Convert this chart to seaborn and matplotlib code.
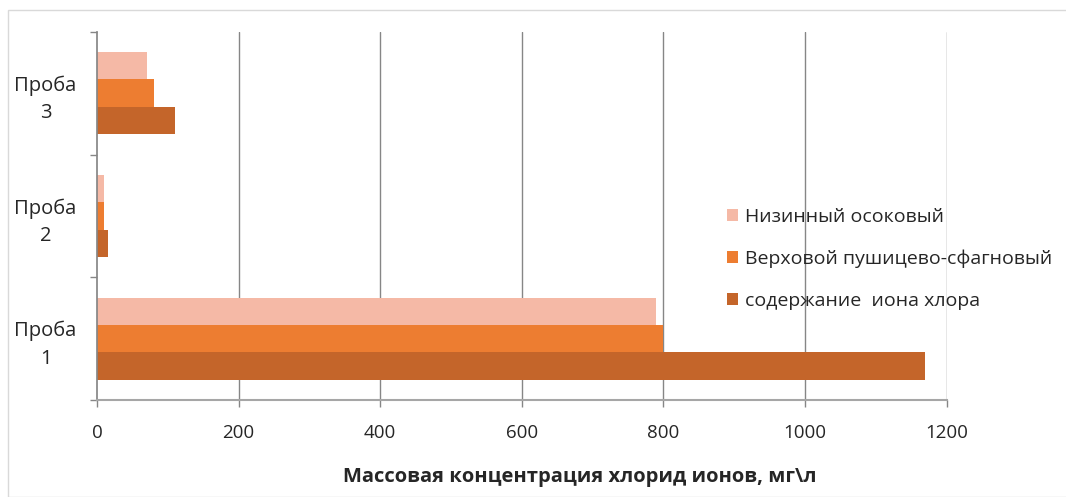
import matplotlib
matplotlib.use("Agg")
import matplotlib.pyplot as plt
import seaborn as sns
import pandas as pd
from matplotlib.patches import Rectangle

categories = ["Проба\n3", "Проба\n2", "Проба\n1"]
series_names = ["Низинный осоковый", "Верховой пушицево-сфагновый", "содержание  иона хлора"]
nizinny = [70, 10, 790]
verkhovoy = [80, 10, 800]
soderzhanie = [110, 15, 1170]
colors = ["#F5B9A6", "#ED7D31", "#C4652A"]
xticks = [0, 200, 400, 600, 800, 1000, 1200]
xlabel = "Массовая концентрация хлорид ионов, мг\\л"

rows = []
for name, vals in zip(series_names, [nizinny, verkhovoy, soderzhanie]):
    for c, v in zip(categories, vals):
        rows.append({"cat": c, "series": name, "value": v})
df = pd.DataFrame(rows)

sns.set_theme(style="white")
plt.rcParams["font.family"] = ["Open Sans", "DejaVu Sans"]

fig = plt.figure(figsize=(10.66, 4.97), dpi=100)
ax = fig.add_axes([0.091, 0.195, 0.797, 0.741])

sns.barplot(data=df, y="cat", x="value", hue="series", order=categories,
            hue_order=series_names, palette=colors, orient="h", width=0.67,
            saturation=1, ax=ax, edgecolor="none", linewidth=0)

ax.set_xlim(0, 1200)
ax.set_xticks(xticks)
ax.set_xticklabels([str(t) for t in xticks], fontsize=13.5, color="#262626")
ax.set_ylim(2.5, -0.5)
ax.set_yticks(range(len(categories)))
ax.set_yticklabels(categories, fontsize=14.5, color="#262626", ha="center", linespacing=1.5)
ax.tick_params(axis="y", which="major", length=0, pad=37)
ax.set_yticks([-0.5, 0.5, 1.5, 2.5], minor=True)
ax.tick_params(axis="y", which="minor", length=5, color="#868686", width=1, direction="out", left=True)
ax.tick_params(axis="x", which="major", length=5, color="#868686", width=1, direction="out", bottom=True, pad=12)

for t in xticks[1:]:
    ax.axvline(t, color="#868686", linewidth=1, zorder=0)

for s in ["top", "right"]:
    ax.spines[s].set_visible(False)
ax.spines["left"].set_color("#868686")
ax.spines["bottom"].set_color("#A6A6A6")
ax.spines["bottom"].set_linewidth(1.5)

ax.set_ylabel("")
ax.set_xlabel("")
fig.text(580 / 1066, 1 - 477 / 497, xlabel, fontsize=14.5, fontweight="bold", color="#262626",
         ha="center", va="center")

ax.legend(loc="upper left", bbox_to_anchor=(0.721, 0.57), frameon=False, fontsize=14,
          handlelength=0.55, handleheight=0.55, handletextpad=0.35, labelspacing=1.22,
          labelcolor="#262626")

fig.patches.append(Rectangle((8 / 1066, 0), 1.0, 1 - 10 / 497, transform=fig.transFigure,
                             fill=False, edgecolor="#D9D9D9", linewidth=1))

fig.savefig("out.png", dpi=100)
